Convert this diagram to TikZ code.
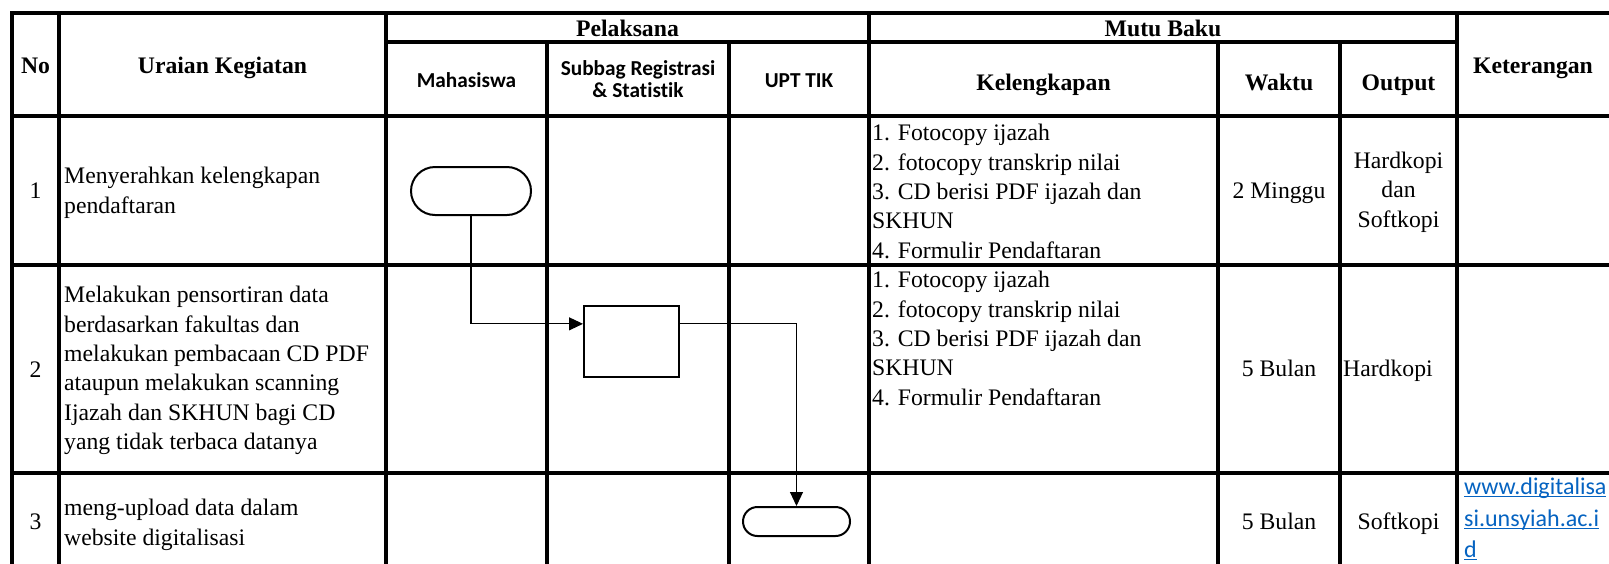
\documentclass[tikz,border=0pt]{standalone}
\usepackage{fontspec}
\setmainfont{Liberation Serif}
\newfontfamily\calibrifont[Ligatures=NoCommon]{Carlito}
\usetikzlibrary{arrows.meta,positioning,shapes.misc}
\definecolor{sopInk}{HTML}{000000}
\definecolor{sopLink}{HTML}{0563C1}
\newcommand\linkline[1]{\underline{\smash{#1}}\vphantom{#1}}

\begin{document}
\begin{tikzpicture}[x=1pt,y=-1pt,line cap=rect,line join=miter]
\path[fill=white] (0,0) rectangle (1609,563);
\useasboundingbox (0,0) rectangle (1609,563);
\tikzset{grid/.style={draw=sopInk,line width=4.5pt},conn/.style={draw=sopInk,line width=1.1pt,-{Triangle[length=14pt,width=13pt]}},term/.style={draw=sopInk,line width=2pt,rounded rectangle,inner sep=0pt},procbox/.style={draw=sopInk,line width=2pt,rectangle,inner sep=0pt},txt/.style={font=\fontsize{23.7}{29.4}\selectfont,text=sopInk,inner sep=0pt},hd/.style={font=\fontsize{23.7}{29.4}\selectfont\bfseries,text=sopInk,inner sep=0pt,anchor=base},hds/.style={font=\calibrifont\bfseries\fontsize{21.3}{22}\selectfont,text=sopInk,inner sep=0pt},link/.style={font=\calibrifont\fontsize{24}{31.5}\selectfont,text=sopLink,inner sep=0pt,align=left,anchor=north west}}
% table rules
\draw[grid] (12,13) -- (1609,13);
\draw[grid] (386,42) -- (1457,42);
\foreach \y in {116,265,473} \draw[grid] (12,\y) -- (1609,\y);
\foreach \x in {12,59,386,869,1457} \draw[grid] (\x,13) -- (\x,563);
\foreach \x in {547,729,1218,1340} \draw[grid] (\x,42) -- (\x,563);
% header
\node[hd] (hNo) at (35.5,73) {No};
\node[hd] (hUraian) at (222.5,73) {Uraian Kegiatan};
\node[hd] (hPelaksana) at (627.5,36) {Pelaksana};
\node[hd] (hMutu) at (1163,36) {Mutu Baku};
\node[hds,anchor=base] (hMhs) at (466.5,87) {Mahasiswa};
\node[hds,align=center] (hSubbag) at (638,79) {Subbag Registrasi\\\& Statistik};
\node[hds,anchor=base] (hUpt) at (799,87) {UPT TIK};
\node[hd] (hKel) at (1043.5,90) {Kelengkapan};
\node[hd] (hWaktu) at (1279,90) {Waktu};
\node[hd] (hOutput) at (1398.5,90) {Output};
\node[hd] (hKet) at (1533,73) {Keterangan};
% row 1
\node[txt,anchor=base] (no1) at (35.5,198) {1};
\node[txt,anchor=north west,align=left] (act1) at (64,167) {Menyerahkan kelengkapan\\pendaftaran};
\node[txt,anchor=north west,align=left] (kel1) at (872,124) {1. Fotocopy ijazah\\2. fotocopy transkrip nilai\\3. CD berisi PDF ijazah dan\\SKHUN\\4. Formulir Pendaftaran};
\node[txt,anchor=base] (time1) at (1279,198) {2 Minggu};
\node[txt,align=center] (out1) at (1398.5,192) {Hardkopi\\dan\\Softkopi};
% row 2
\node[txt,anchor=base] (no2) at (35.5,377) {2};
\node[txt,anchor=north west,align=left] (act2) at (64,286) {Melakukan pensortiran data\\berdasarkan fakultas dan\\melakukan pembacaan CD PDF\\ataupun melakukan scanning\\Ijazah dan SKHUN bagi CD\\yang tidak terbaca datanya};
\node[txt,anchor=north west,align=left] (kel2) at (872,271) {1. Fotocopy ijazah\\2. fotocopy transkrip nilai\\3. CD berisi PDF ijazah dan\\SKHUN\\4. Formulir Pendaftaran};
\node[txt,anchor=base] (time2) at (1279,376) {5 Bulan};
\node[txt,anchor=base west] (out2) at (1343,376) {Hardkopi};
% row 3
\node[txt,anchor=base] (no3) at (35.5,529) {3};
\node[txt,anchor=north west,align=left] (act3) at (64,499) {meng-upload data dalam\\website digitalisasi};
\node[txt,anchor=base] (time3) at (1279,529) {5 Bulan};
\node[txt,anchor=base] (out3) at (1398.5,529) {Softkopi};
\node[link] (ket3) at (1464,478) {\linkline{www.digitalisa}\\\linkline{si.unsyiah.ac.i}\\\linkline{d}};
% flow
\node[term,minimum width=120pt,minimum height=48pt] (start) at (471,191) {};
\node[procbox,minimum width=95pt,minimum height=71pt] (sort) at (631.5,341.5) {};
\node[term,minimum width=107pt,minimum height=29pt] (upload) at (796.5,521.5) {};
\draw[conn] (start.south) |- (sort.160);
\draw[conn] (sort.20) -| (upload.north);
\end{tikzpicture}
\end{document}
